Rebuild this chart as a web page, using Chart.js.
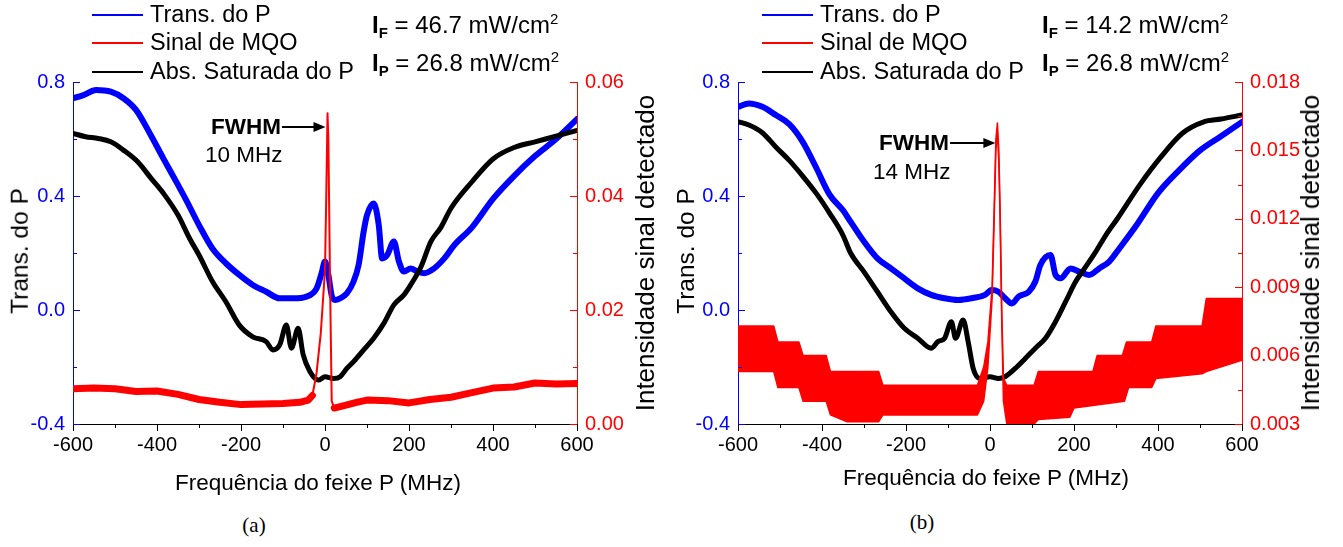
<!DOCTYPE html>
<html>
<head>
<meta charset="utf-8">
<title>Sinal de MQO</title>
<script src="https://cdn.jsdelivr.net/npm/chart.js@4.4.1/dist/chart.umd.min.js"></script>
<style>
  body { margin: 0; background: #fff; font-family: "Liberation Sans", Arial, sans-serif; }
  #fig { position: relative; width: 1343px; height: 547px; overflow: hidden; }
  canvas { position: absolute; top: 0; }
  .t { position: absolute; white-space: nowrap; color: #000; line-height: 1; transform: translateY(-50%); }
  .c { transform: translate(-50%, -50%); }
  .rot { transform: translate(-50%, -50%) rotate(-90deg); }
  .leg { font-size: 23.5px; }
  .ttl { font-size: 22.5px; }
  .ytl { font-size: 24.5px; }
  .ytr { font-size: 26px; }
  .int { font-size: 24px; }
  .int b sub, .int sup { font-size: 15px; }
  .int b sub { vertical-align: -5px; }
  .int sup { vertical-align: 9px; }
  .key { position: absolute; height: 2px; width: 51px; }
  .cap { font-family: "Liberation Serif", "Times New Roman", serif; font-size: 21px; }
</style>
</head>
<body>
<div id="fig">
  <canvas id="ca" width="670" height="470" style="left:0"></canvas>
  <canvas id="cb" width="673" height="470" style="left:670px"></canvas>

  <!-- painel (a) -->
  <div class="key" style="left:92px;top:14px;background:#0000ff"></div>
  <div class="key" style="left:92px;top:42px;background:#ff0000"></div>
  <div class="key" style="left:92px;top:71px;background:#000"></div>
  <div class="t leg" style="left:150px;top:15px">Trans. do P</div>
  <div class="t leg" style="left:150px;top:43px">Sinal de MQO</div>
  <div class="t leg" style="left:150px;top:72px">Abs. Saturada do P</div>
  <div class="t int" style="left:372px;top:25px"><b>I<sub>F</sub></b> = 46.7 mW/cm<sup>2</sup></div>
  <div class="t int" style="left:372px;top:63px"><b>I<sub>P</sub></b> = 26.8 mW/cm<sup>2</sup></div>
  <div class="t ttl" style="left:211px;top:127px;font-weight:bold">FWHM</div>
  <div class="t ttl" style="left:205px;top:155px">10 MHz</div>
  <div class="t ytl rot" style="left:20px;top:251px">Trans. do P</div>
  <div class="t ytr rot" style="left:645px;top:253px">Intensidade sinal detectado</div>
  <div class="t ttl c" style="left:318px;top:483px">Frequência do feixe P (MHz)</div>
  <div class="t cap c" style="left:254px;top:525px">(a)</div>

  <!-- painel (b) -->
  <div class="key" style="left:762px;top:14px;background:#0000ff"></div>
  <div class="key" style="left:762px;top:42px;background:#ff0000"></div>
  <div class="key" style="left:762px;top:71px;background:#000"></div>
  <div class="t leg" style="left:820px;top:15px">Trans. do P</div>
  <div class="t leg" style="left:820px;top:43px">Sinal de MQO</div>
  <div class="t leg" style="left:820px;top:72px">Abs. Saturada do P</div>
  <div class="t int" style="left:1042px;top:25px"><b>I<sub>F</sub></b> = 14.2 mW/cm<sup>2</sup></div>
  <div class="t int" style="left:1042px;top:63px"><b>I<sub>P</sub></b> = 26.8 mW/cm<sup>2</sup></div>
  <div class="t ttl" style="left:879px;top:143px;font-weight:bold">FWHM</div>
  <div class="t ttl" style="left:873px;top:172px">14 MHz</div>
  <div class="t ytl rot" style="left:686px;top:251px">Trans. do P</div>
  <div class="t ytr rot" style="left:1310px;top:253px">Intensidade sinal detectado</div>
  <div class="t ttl c" style="left:986px;top:478px">Frequência do feixe P (MHz)</div>
  <div class="t cap c" style="left:922px;top:522px">(b)</div>
</div>

<script>
  // eixos
  var xTicks = [-600, -400, -200, 0, 200, 400, 600];
  var xMinor = [-500, -300, -100, 100, 300, 500];
  var leftTicks = [-0.4, 0.0, 0.4, 0.8];
  var leftMinor = [-0.2, 0.2, 0.6];
  var aRightTicks = [0, 0.02, 0.04, 0.06];
  var aRightMinor = [0.01, 0.03, 0.05];
  var bRightTicks = [0.003, 0.006, 0.009, 0.012, 0.015, 0.018];
  var bRightMinor = [0.0045, 0.0075, 0.0105, 0.0135, 0.0165];

  // (a) Trans. do P
  var aBlueF = [-600, -575, -545, -510, -480, -450, -415, -385, -350, -332, -300, -268, -236, -204, -172, -140, -108, -76, -44, -20, -8, 0, 8, 16, 24, 36, 52, 68, 80, 92, 100, 116, 128, 136, 148, 164, 176, 188, 204, 220, 236, 260, 284, 308, 350, 400, 450, 500, 550, 600];
  var aBlueV = [0.743, 0.754, 0.772, 0.766, 0.743, 0.702, 0.614, 0.532, 0.439, 0.39, 0.298, 0.216, 0.164, 0.123, 0.088, 0.064, 0.041, 0.041, 0.047, 0.076, 0.13, 0.17, 0.123, 0.05, 0.035, 0.041, 0.058, 0.1, 0.158, 0.275, 0.333, 0.374, 0.298, 0.181, 0.193, 0.24, 0.17, 0.135, 0.146, 0.135, 0.129, 0.146, 0.181, 0.228, 0.29, 0.39, 0.47, 0.54, 0.6, 0.67];
  // (a) Abs. Saturada do P
  var aBlackF = [-600, -570, -540, -510, -480, -446, -414, -382, -350, -322, -300, -268, -236, -204, -172, -140, -124, -108, -92, -80, -64, -52, -36, -16, 0, 20, 36, 52, 68, 92, 116, 140, 164, 188, 204, 228, 252, 276, 300, 350, 400, 450, 500, 550, 600];
  var aBlackV = [0.62, 0.608, 0.602, 0.59, 0.561, 0.52, 0.462, 0.404, 0.333, 0.25, 0.193, 0.1, 0.029, -0.053, -0.094, -0.111, -0.14, -0.123, -0.053, -0.134, -0.064, -0.157, -0.216, -0.246, -0.234, -0.24, -0.234, -0.205, -0.181, -0.14, -0.099, -0.047, 0.018, 0.053, 0.088, 0.15, 0.24, 0.29, 0.357, 0.45, 0.53, 0.57, 0.59, 0.61, 0.63];
  // (a) Sinal de MQO
  var aRedF = [-600, -550, -500, -450, -400, -350, -300, -250, -200, -150, -100, -60, -40, -30, -20, -10, 0, 3, 6, 8, 12, 16, 22, 50, 75, 100, 150, 200, 250, 300, 350, 400, 450, 500, 550, 600];
  var aRedV = [0.0062, 0.0063, 0.0062, 0.0057, 0.0058, 0.0052, 0.0043, 0.0038, 0.0034, 0.0035, 0.0036, 0.0038, 0.0042, 0.005, 0.009, 0.016, 0.027, 0.04, 0.0545, 0.05, 0.025, 0.004, 0.0028, 0.0033, 0.0038, 0.0042, 0.0041, 0.0037, 0.0043, 0.0047, 0.0055, 0.0063, 0.0065, 0.0072, 0.007, 0.0071];

  // (b) Trans. do P
  var bBlueF = [-600, -574, -542, -510, -478, -446, -414, -382, -350, -332, -300, -268, -236, -204, -172, -140, -108, -76, -44, -12, 4, 20, 36, 52, 68, 92, 108, 120, 144, 156, 168, 192, 212, 236, 260, 284, 308, 350, 400, 450, 500, 550, 600];
  var bBlueV = [0.713, 0.725, 0.713, 0.684, 0.652, 0.59, 0.5, 0.405, 0.35, 0.31, 0.24, 0.181, 0.146, 0.111, 0.076, 0.053, 0.041, 0.035, 0.041, 0.053, 0.07, 0.064, 0.041, 0.023, 0.047, 0.064, 0.1, 0.158, 0.193, 0.123, 0.111, 0.146, 0.135, 0.123, 0.146, 0.17, 0.216, 0.3, 0.41, 0.49, 0.56, 0.61, 0.66];
  // (b) Abs. Saturada do P
  var bBlackF = [-600, -574, -542, -510, -478, -446, -414, -382, -350, -332, -300, -268, -236, -204, -172, -140, -124, -108, -92, -82, -64, -52, -40, -24, 0, 20, 36, 60, 84, 108, 132, 156, 180, 204, 228, 252, 276, 304, 357, 407, 458, 509, 550, 600];
  var bBlackV = [0.661, 0.649, 0.622, 0.572, 0.525, 0.47, 0.41, 0.34, 0.262, 0.2, 0.134, 0.064, -0.006, -0.064, -0.099, -0.134, -0.111, -0.099, -0.041, -0.099, -0.035, -0.111, -0.205, -0.24, -0.234, -0.24, -0.234, -0.205, -0.17, -0.134, -0.099, -0.041, 0.029, 0.1, 0.152, 0.205, 0.263, 0.322, 0.44, 0.537, 0.62, 0.66, 0.67, 0.684];
  // (b) Sinal de MQO: envoltória superior e inferior do ruído
  var bRedHiF = [-600, -515, -505, -455, -445, -390, -380, -265, -255, -30, -15, -5, 5, 10, 14, 17.6, 21, 24, 28, 32, 40, 105, 115, 245, 255, 315, 325, 385, 395, 505, 515, 600];
  var bRedHiV = [0.0073, 0.0073, 0.0066, 0.0066, 0.006, 0.006, 0.0053, 0.0053, 0.0047, 0.0047, 0.0055, 0.0066, 0.009, 0.0125, 0.0155, 0.0162, 0.015, 0.0125, 0.008, 0.005, 0.0047, 0.0047, 0.0053, 0.0053, 0.006, 0.006, 0.0066, 0.0066, 0.0073, 0.0073, 0.0085, 0.0085];
  var bRedLoF = [-600, -515, -505, -455, -445, -390, -380, -340, -265, -255, -30, -15, -5, 5, 10, 14, 17.6, 21, 24, 28, 32, 40, 105, 115, 190, 200, 320, 330, 385, 395, 505, 515, 600];
  var bRedLoV = [0.0053, 0.0053, 0.0046, 0.0046, 0.004, 0.004, 0.0034, 0.0031, 0.0031, 0.0034, 0.0034, 0.004, 0.0055, 0.0085, 0.012, 0.015, 0.0158, 0.0145, 0.012, 0.0075, 0.004, 0.003, 0.003, 0.0032, 0.0033, 0.0037, 0.004, 0.0046, 0.0046, 0.005, 0.0052, 0.0053, 0.0058];

  var BLUE = '#0000ff', RED = '#ff0000', BLACK = '#000000';
  var FONT = '"Liberation Sans", Arial, sans-serif';

  function pts(f, v) {
    return f.map(function(x, i) { return { x: x, y: v[i] }; });
  }

  // marcas de escala: x para fora, y para dentro
  var tickMarks = {
    id: 'tickMarks',
    afterDraw: function(chart, args, o) {
      var ctx = chart.ctx, a = chart.chartArea, s = chart.scales;
      ctx.save();
      ctx.lineWidth = 1;
      function px(v) { return Math.round(v) + 0.5; }
      ctx.strokeStyle = BLACK;
      ctx.beginPath();
      xTicks.forEach(function(v) { var x = px(s.x.getPixelForValue(v)); ctx.moveTo(x, a.bottom); ctx.lineTo(x, a.bottom + 7); });
      xMinor.forEach(function(v) { var x = px(s.x.getPixelForValue(v)); ctx.moveTo(x, a.bottom); ctx.lineTo(x, a.bottom + 4); });
      ctx.stroke();
      ctx.strokeStyle = BLUE;
      ctx.beginPath();
      leftTicks.forEach(function(v) { var y = px(s.y.getPixelForValue(v)); ctx.moveTo(a.left, y); ctx.lineTo(a.left + 7, y); });
      leftMinor.forEach(function(v) { var y = px(s.y.getPixelForValue(v)); ctx.moveTo(a.left, y); ctx.lineTo(a.left + 4, y); });
      ctx.stroke();
      ctx.strokeStyle = RED;
      ctx.beginPath();
      o.rMajor.forEach(function(v) { var y = px(s.y1.getPixelForValue(v)); ctx.moveTo(a.right, y); ctx.lineTo(a.right - 7, y); });
      o.rMinor.forEach(function(v) { var y = px(s.y1.getPixelForValue(v)); ctx.moveTo(a.right, y); ctx.lineTo(a.right - 4, y); });
      ctx.stroke();
      // seta do FWHM
      var tip = s.x.getPixelForValue(o.peakX) - 2, y0 = o.arrowY;
      ctx.strokeStyle = BLACK;
      ctx.lineWidth = 2;
      ctx.beginPath(); ctx.moveTo(o.arrowX, y0); ctx.lineTo(tip - 9, y0); ctx.stroke();
      ctx.fillStyle = BLACK;
      ctx.beginPath(); ctx.moveTo(tip, y0); ctx.lineTo(tip - 12, y0 - 5); ctx.lineTo(tip - 12, y0 + 5); ctx.closePath(); ctx.fill();
      ctx.restore();
    }
  };

  function makeChart(id, o) {
    return new Chart(document.getElementById(id), {
      type: 'line',
      data: { datasets: o.datasets },
      options: {
        responsive: false,
        animation: false,
        events: [],
        layout: { padding: { top: 82, left: 0, right: 0, bottom: 0 } },
        elements: { point: { radius: 0 }, line: { tension: 0, borderJoinStyle: 'round', borderCapStyle: 'round' } },
        plugins: {
          legend: { display: false },
          tooltip: { enabled: false },
          tickMarks: { rMajor: o.rTicks, rMinor: o.rMinor, peakX: o.peakX, arrowX: o.arrowX, arrowY: o.arrowY }
        },
        scales: {
          x: {
            type: 'linear', min: -600, max: 600,
            afterBuildTicks: function(sc) { sc.ticks = xTicks.map(function(v) { return { value: v }; }); },
            afterFit: function(sc) { sc.height = 46; },
            grid: { display: false, drawTicks: false },
            border: { color: BLACK, width: 1 },
            ticks: { color: BLACK, font: { size: 20, family: FONT }, padding: 9, maxRotation: 0, autoSkip: false,
                     callback: function(v) { return String(v); } }
          },
          y: {
            position: 'left', min: -0.4, max: 0.8,
            afterBuildTicks: function(sc) { sc.ticks = leftTicks.map(function(v) { return { value: v }; }); },
            afterFit: function(sc) { sc.width = o.left; },
            grid: { display: false, drawTicks: false },
            border: { color: BLUE, width: 1 },
            ticks: { color: BLUE, font: { size: 20, family: FONT }, padding: 8, autoSkip: false,
                     callback: function(v) { return v.toFixed(1); } }
          },
          y1: {
            position: 'right', min: o.rMin, max: o.rMax,
            afterBuildTicks: function(sc) { sc.ticks = o.rTicks.map(function(v) { return { value: v }; }); },
            afterFit: function(sc) { sc.width = o.right; },
            grid: { display: false, drawTicks: false },
            border: { color: RED, width: 1 },
            ticks: { color: RED, font: { size: 20, family: FONT }, padding: 8, autoSkip: false,
                     callback: function(v) { return v.toFixed(o.rDec); } }
          }
        }
      },
      plugins: [tickMarks]
    });
  }

  makeChart('ca', {
    left: 73, right: 93, rMin: 0, rMax: 0.06, rTicks: aRightTicks, rMinor: aRightMinor, rDec: 2,
    peakX: 6, arrowX: 282, arrowY: 127,
    datasets: [
      { label: 'Sinal de MQO', data: pts(aRedF, aRedV), yAxisID: 'y1', borderColor: RED, borderWidth: 7,
        segment: { borderWidth: function(c) { return (c.p0.parsed.x >= -30 && c.p1.parsed.x <= 22) ? 2 : 7; } } },
      { label: 'Abs. Saturada do P', data: pts(aBlackF, aBlackV), yAxisID: 'y', borderColor: BLACK, borderWidth: 5,
        cubicInterpolationMode: 'monotone' },
      { label: 'Trans. do P', data: pts(aBlueF, aBlueV), yAxisID: 'y', borderColor: BLUE, borderWidth: 6,
        cubicInterpolationMode: 'monotone' }
    ]
  });

  makeChart('cb', {
    left: 68, right: 101, rMin: 0.003, rMax: 0.018, rTicks: bRightTicks, rMinor: bRightMinor, rDec: 3,
    peakX: 17.6, arrowX: 280, arrowY: 143,
    datasets: [
      { label: 'Sinal de MQO', data: pts(bRedHiF, bRedHiV), yAxisID: 'y1', borderColor: RED, borderWidth: 1.5,
        backgroundColor: RED, fill: '+1' },
      { label: 'Sinal de MQO (inf.)', data: pts(bRedLoF, bRedLoV), yAxisID: 'y1', borderColor: RED, borderWidth: 1.5, fill: false },
      { label: 'Abs. Saturada do P', data: pts(bBlackF, bBlackV), yAxisID: 'y', borderColor: BLACK, borderWidth: 5,
        cubicInterpolationMode: 'monotone' },
      { label: 'Trans. do P', data: pts(bBlueF, bBlueV), yAxisID: 'y', borderColor: BLUE, borderWidth: 6,
        cubicInterpolationMode: 'monotone' }
    ]
  });
</script>
</body>
</html>
